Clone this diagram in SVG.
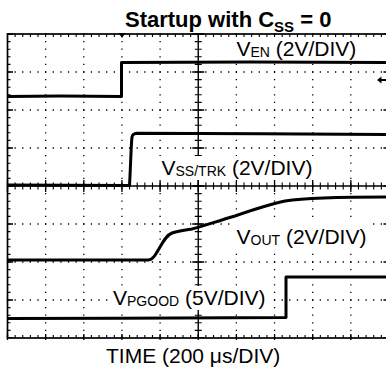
<svg xmlns="http://www.w3.org/2000/svg" width="386" height="379" viewBox="0 0 386 379">
<style>
.t{font-family:"Liberation Sans",Arial,Helvetica,sans-serif;font-size:21px;fill:#000}
.s{font-size:14px}
.b{font-weight:bold;font-size:22px}
.bs{font-size:15px}
.dh{stroke:#000;stroke-width:1.3;stroke-dasharray:1.3 6.33;fill:none}
.dv{stroke:#000;stroke-width:1.3;stroke-dasharray:1.3 6.3;fill:none}
.th{stroke:#000;stroke-dasharray:1.1 6.53;fill:none}
.tv{stroke:#000;stroke-dasharray:1.1 6.5;fill:none}
.mh{stroke:#000;stroke-dasharray:1.3 36.85;fill:none}
.mv{stroke:#000;stroke-dasharray:1.3 36.7;fill:none}
.tr{stroke:#000;stroke-width:3;fill:none;stroke-linejoin:round}
.bx{fill:#fff}
</style>
<rect width="386" height="379" fill="#fff"/>
<g id="graticule">
  <path class="dh" d="M6.85,72H390M6.85,110H390M6.85,148H390M6.85,224H390M6.85,262H390M6.85,300H390"/>
  <path class="dv" d="M45.65,33.35V338M83.8,33.35V338M121.95,33.35V338M160.1,33.35V338M236.4,33.35V338M274.55,33.35V338M312.7,33.35V338M350.85,33.35V338"/>
  <path d="M7.5,186H389M198.25,34V338" stroke="#000" stroke-width="1.4" fill="none"/>
  <path class="th" stroke-width="7" d="M6.95,186H389"/>
  <path class="tv" stroke-width="7" d="M198.25,33.45V338"/>
  <path class="mh" stroke-width="12" d="M6.85,186H389"/>
  <path class="mv" stroke-width="12" d="M198.25,33.35V338"/>
  <rect x="7.5" y="34" width="381.5" height="304" fill="none" stroke="#000" stroke-width="1.7"/>
  <path class="th" stroke-width="3" d="M6.95,35.5H389M6.95,336.5H389"/>
  <path class="tv" stroke-width="3" d="M9,33.45V338M387.5,33.45V338"/>
  <path class="mh" stroke-width="6" d="M6.85,337H389"/>
  <path class="mv" stroke-width="6" d="M10,33.35V338M386.5,33.35V338"/>
  <polygon points="118.5,33 125.5,33 122,38"/>
  <polygon points="377,80 381.5,76.5 381.5,79 386,79 386,81 381.5,81 381.5,83.5"/>
</g>
<g id="traces">
  <path id="trace-ven" class="tr" d="M8,96.5L60,96L121.5,96.5V62.5L250,62L386,62.5"/>
  <path id="trace-ss" class="tr" d="M8,185L129.5,185.5C130.5,170 131,145 132,137C132.5,134 134,133.5 137,133.3L260,133.8L386,134.5"/>
  <path id="trace-vout" class="tr" d="M8,260L148,260C153,260 156,254 160,247C164,240 167,235 172,233C178,231 185,230 192,229C200,227 215,222 235,216C255,209 270,204 285,201C305,198 330,197 386,197"/>
  <path id="trace-pgood" class="tr" d="M8,318.5L120,318.3L286,317.5V277L386,277"/>
</g>
<g id="title">
  <text class="t b" x="125" y="26.5">Startup with C<tspan class="bs" dy="5">SS</tspan><tspan dy="-5"> = 0</tspan></text>
</g>
<g id="label-ven">
  <rect class="bx" x="232" y="38" width="128" height="22"/>
  <text class="t" x="236.5" y="56">V<tspan class="s" dy="1">EN</tspan><tspan dy="-1"> (2V/DIV)</tspan></text>
</g>
<g id="label-ss">
  <rect class="bx" x="157" y="156" width="160" height="24"/>
  <text class="t" x="161.5" y="175">V<tspan class="s" dy="1">SS/TRK</tspan><tspan dy="-1"> (2V/DIV)</tspan></text>
</g>
<g id="label-vout">
  <rect class="bx" x="232" y="222" width="139" height="26"/>
  <text class="t" x="236.5" y="243.5">V<tspan class="s" dy="1">OUT</tspan><tspan dy="-1"> (2V/DIV)</tspan></text>
</g>
<g id="label-pgood">
  <rect class="bx" x="108" y="286" width="162" height="24"/>
  <text class="t" x="113" y="305">V<tspan class="s" dy="1">PGOOD</tspan><tspan dy="-1"> (5V/DIV)</tspan></text>
</g>
<g id="axis-label">
  <text class="t" x="106" y="363">TIME (200 μs/DIV)</text>
</g>
</svg>
